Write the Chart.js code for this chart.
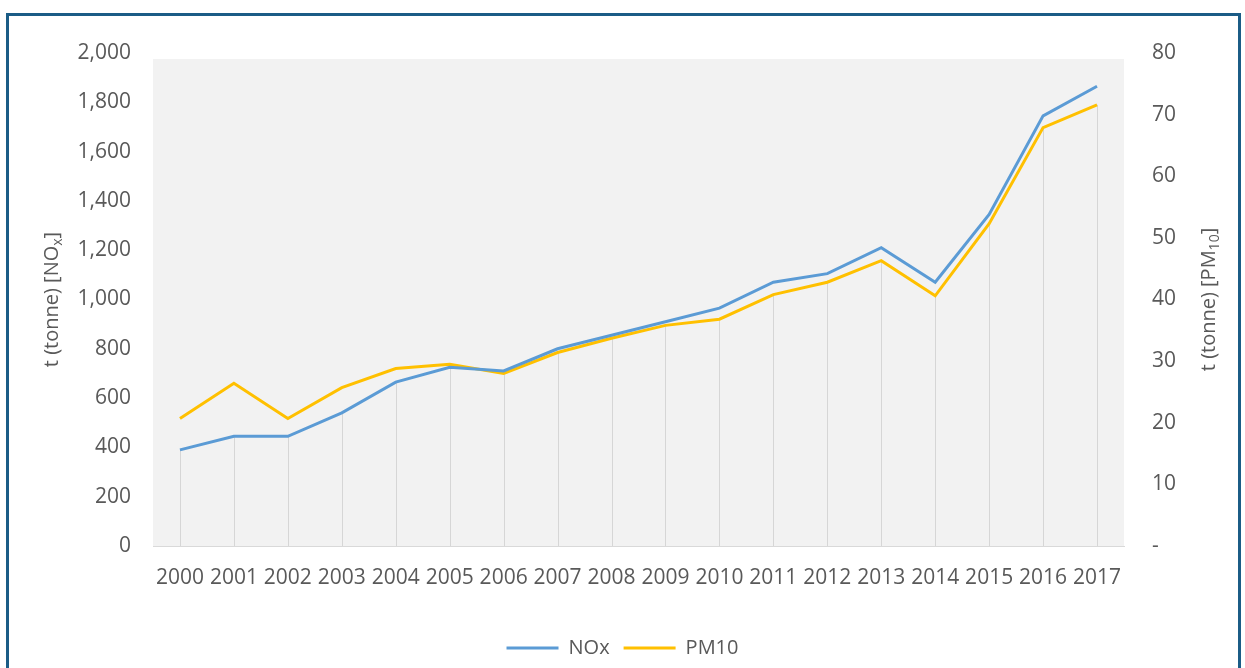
<!DOCTYPE html>
<html lang="en">
  <head>
    <meta charset="UTF-8" />
    <title>NOx and PM10 emissions 2000-2017</title>
    <script src="https://cdn.jsdelivr.net/npm/chart.js@4.4.1/dist/chart.umd.min.js"></script>
    <style>
      body {
        margin: 0;
        background: #ffffff;
      }
      .frame {
        position: absolute;
        left: 6px;
        top: 13px;
        width: 1235px;
        height: 720px;
        border: 3px solid #1b5c86;
        box-sizing: border-box;
      }
      .wrap {
        position: absolute;
        left: 0;
        top: 0;
        width: 1245px;
        height: 668px;
      }
    </style>
  </head>
  <body>
    <div class="frame"></div>
    <div class="wrap"><canvas id="emissions-chart"></canvas></div>

    <script>
      // Values
      const years = ["2000", "2001", "2002", "2003", "2004", "2005", "2006", "2007", "2008",
        "2009", "2010", "2011", "2012", "2013", "2014", "2015", "2016", "2017"];
      const noxTonnes = [390, 445, 445, 540, 665, 725, 710, 800, 855,
        910, 965, 1070, 1105, 1210, 1070, 1345, 1745, 1865];
      const pm10Tonnes = [20.7, 26.4, 20.7, 25.7, 28.8, 29.5, 28.0, 31.4, 33.7,
        35.8, 36.8, 40.8, 42.8, 46.3, 40.6, 52.3, 67.9, 71.6];
      const noxAxis = { min: 0, max: 2000, step: 200 };
      const pm10Axis = { min: 0, max: 80, step: 10 };

      const textColor = "#595959";
      const fontFamily = '"Open Sans", "Liberation Sans", sans-serif';

      // Light grey plot background
      const plotBackground = {
        id: "plotBackground",
        beforeDraw(chart) {
          const { ctx, chartArea } = chart;
          ctx.save();
          ctx.fillStyle = "#f2f2f2";
          ctx.fillRect(chartArea.left, chartArea.top + 6,
            chartArea.right - chartArea.left, chartArea.bottom - chartArea.top - 6);
          ctx.restore();
        },
      };

      // Excel style drop lines from the lower line down to the axis
      const dropLines = {
        id: "dropLines",
        beforeDatasetsDraw(chart) {
          const { ctx, chartArea } = chart;
          const a = chart.getDatasetMeta(0).data;
          const b = chart.getDatasetMeta(1).data;
          ctx.save();
          ctx.strokeStyle = "#d6d6d6";
          ctx.lineWidth = 1;
          a.forEach((pt, i) => {
            const x = Math.round(pt.x) + 0.5;
            const top = Math.max(pt.y, b[i].y);
            ctx.beginPath();
            ctx.moveTo(x, top);
            ctx.lineTo(x, chartArea.bottom);
            ctx.stroke();
          });
          ctx.restore();
        },
      };

      // Rotated axis titles with real subscripts
      function drawTitle(ctx, cx, cy, parts) {
        ctx.save();
        ctx.translate(cx, cy);
        ctx.rotate(-Math.PI / 2);
        ctx.fillStyle = textColor;
        ctx.textBaseline = "middle";
        let total = 0;
        parts.forEach((p) => {
          ctx.font = (p.sub ? "14px " : "20px ") + fontFamily;
          p.w = ctx.measureText(p.text).width;
          total += p.w;
        });
        let x = -total / 2;
        parts.forEach((p) => {
          ctx.font = (p.sub ? "14px " : "20px ") + fontFamily;
          ctx.fillText(p.text, x, p.sub ? 6 : 0);
          x += p.w;
        });
        ctx.restore();
      }

      const axisTitles = {
        id: "axisTitles",
        afterDraw(chart) {
          const { ctx, chartArea, scales } = chart;
          const cy = (chartArea.top + chartArea.bottom) / 2;
          drawTitle(ctx, scales.y.left + 52, cy, [
            { text: "t (tonne) [NO" }, { text: "x", sub: true }, { text: "]" },
          ]);
          drawTitle(ctx, scales.y1.left + 85, cy, [
            { text: "t (tonne) [PM" }, { text: "10", sub: true }, { text: "]" },
          ]);
        },
      };

      new Chart(document.getElementById("emissions-chart"), {
        type: "line",
        data: {
          labels: years,
          datasets: [
            {
              label: "NOx",
              data: noxTonnes,
              yAxisID: "y",
              borderColor: "#5b9bd5",
              backgroundColor: "#5b9bd5",
              borderWidth: 3,
              pointRadius: 0,
              pointStyle: "line",
              tension: 0,
            },
            {
              label: "PM10",
              data: pm10Tonnes,
              yAxisID: "y1",
              borderColor: "#ffc000",
              backgroundColor: "#ffc000",
              borderWidth: 3,
              pointRadius: 0,
              pointStyle: "line",
              tension: 0,
            },
          ],
        },
        options: {
          responsive: true,
          maintainAspectRatio: false,
          animation: false,
          layout: { padding: { top: 53, left: 0, right: 0, bottom: 0 } },
          plugins: {
            tooltip: { enabled: false },
            legend: {
              position: "bottom",
              labels: {
                usePointStyle: true,
                pointStyleWidth: 52,
                color: textColor,
                font: { family: fontFamily, size: 20 },
                padding: 14,
              },
            },
          },
          scales: {
            x: {
              offset: true,
              grid: { display: false, drawTicks: false },
              border: { display: true, color: "#d9d9d9", width: 1 },
              ticks: {
                color: textColor,
                font: { family: fontFamily, size: 21 },
                padding: 19,
                maxRotation: 0,
                autoSkip: false,
              },
              afterFit(scale) {
                scale.height = 78;
              },
            },
            y: {
              position: "left",
              min: noxAxis.min,
              max: noxAxis.max,
              grid: { display: false, drawTicks: false },
              border: { display: false },
              ticks: {
                stepSize: noxAxis.step,
                color: textColor,
                font: { family: fontFamily, size: 21 },
                padding: 22,
                callback: (v) => v.toLocaleString("en-US"),
              },
              afterFit(scale) {
                scale.width = 153;
              },
            },
            y1: {
              position: "right",
              min: pm10Axis.min,
              max: pm10Axis.max,
              grid: { display: false, drawTicks: false },
              border: { display: false },
              ticks: {
                stepSize: pm10Axis.step,
                color: textColor,
                font: { family: fontFamily, size: 21 },
                padding: 28,
                callback: (v) => (v === 0 ? "-" : v),
              },
              afterFit(scale) {
                scale.width = 121;
              },
            },
          },
        },
        plugins: [plotBackground, dropLines, axisTitles],
      });
    </script>
  </body>
</html>
